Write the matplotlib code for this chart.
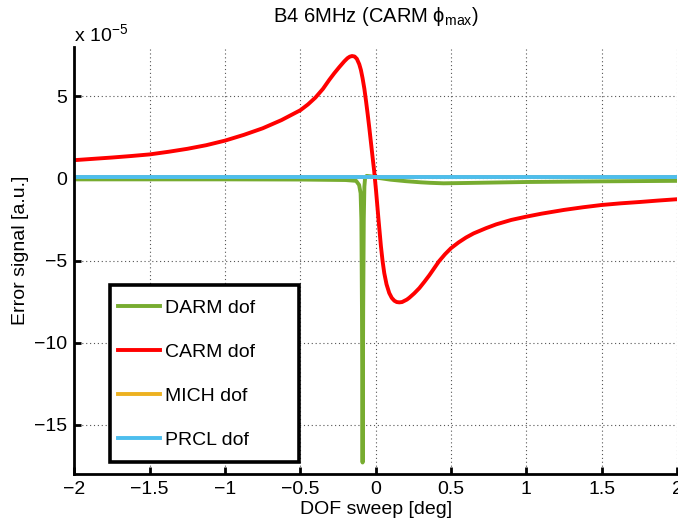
import matplotlib
matplotlib.use("Agg")
import matplotlib.pyplot as plt
from matplotlib.patches import Rectangle

plt.rcParams['font.family'] = ['Liberation Sans', 'DejaVu Sans']
plt.rcParams['mathtext.fontset'] = 'custom'
plt.rcParams['mathtext.rm'] = 'Liberation Sans'
plt.rcParams['mathtext.it'] = 'Liberation Sans:italic'

# values, in units of 1e-5
carm_x = [-2.0, -1.875, -1.75, -1.625, -1.5, -1.375, -1.25, -1.125, -1.0, -0.875,
          -0.75, -0.625, -0.5, -0.45, -0.4, -0.35, -0.308, -0.275, -0.242, -0.208,
          -0.187, -0.172, -0.157, -0.14, -0.125, -0.109, -0.098, -0.087, -0.075,
          -0.064, -0.053, -0.042, -0.031, -0.02, -0.01, 0.002, 0.019, 0.035,
          0.046, 0.057, 0.072, 0.09, 0.107, 0.124, 0.14, 0.157, 0.175, 0.19,
          0.207, 0.223, 0.256, 0.29, 0.323, 0.356, 0.39, 0.42, 0.46, 0.5, 0.55,
          0.6, 0.65, 0.733, 0.8, 0.9, 1.0, 1.1, 1.25, 1.375, 1.5, 1.625, 1.75,
          1.875, 2.0]
carm = [1.11, 1.19, 1.27, 1.36, 1.46, 1.62, 1.8, 2.02, 2.3, 2.65,
        3.05, 3.55, 4.15, 4.5, 4.92, 5.45, 6.0, 6.4, 6.77, 7.13,
        7.32, 7.41, 7.45, 7.42, 7.28, 6.95, 6.6, 6.1, 5.45,
        4.7, 3.9, 3.05, 2.15, 1.25, 0.45, -0.71, -2.53, -4.15,
        -5.05, -5.77, -6.45, -6.98, -7.28, -7.45, -7.53, -7.55, -7.53, -7.46,
        -7.38, -7.27, -7.0, -6.68, -6.3, -5.9, -5.45, -5.05, -4.62, -4.25, -3.9,
        -3.6, -3.35, -3.03, -2.8, -2.53, -2.33, -2.15, -1.92, -1.76, -1.62, -1.52, -1.44,
        -1.35, -1.27]

darm_x = [-2.0, -1.0, -0.5, -0.2, -0.13, -0.11, -0.1, -0.095, -0.091, -0.087,
          -0.083, -0.079, -0.075, -0.07, -0.06, -0.03, 0.0, 0.04, 0.1, 0.2,
          0.3, 0.36, 0.45, 0.6, 1.0, 1.5, 2.0]
darm = [-0.06, -0.06, -0.07, -0.1, -0.15, -0.4, -0.9, -2.5, -8.0, -17.3,
        -8.0, -2.5, -0.5, 0.05, 0.15, 0.12, 0.05, 0.0, -0.08, -0.17,
        -0.24, -0.27, -0.3, -0.28, -0.22, -0.18, -0.15]

mich_x = [-2.0, -1.0, 0.0, 1.0, 2.0]
mich = [0.08, 0.08, 0.08, 0.08, 0.08]

prcl_x = [-2.0, -1.0, 0.0, 1.0, 2.0]
prcl = [0.06, 0.06, 0.06, 0.06, 0.06]

xticks = [-2, -1.5, -1, -0.5, 0, 0.5, 1, 1.5, 2]
xticklabels = ['\u22122', '\u22121.5', '\u22121', '\u22120.5', '0', '0.5', '1', '1.5', '2']
yticks = [-15, -10, -5, 0, 5]
yticklabels = ['\u221215', '\u221210', '\u22125', '0', '5']

W, H = 678, 521
fig = plt.figure(figsize=(6.78, 5.21), dpi=100)
ax = fig.add_axes([0.1097, 0.0902, 0.8888, 0.8196])

lw = 2.8
ax.plot(darm_x, darm, color='#77AC30', lw=lw, label='DARM dof')
ax.plot(carm_x, carm, color='#FF0000', lw=lw, label='CARM dof')
ax.plot(mich_x, mich, color='#EDB120', lw=lw, label='MICH dof')
ax.plot(prcl_x, prcl, color='#4DBEEE', lw=lw, label='PRCL dof')

ax.set_xlim(-2, 2)
ax.set_ylim(-18, 8)
ax.set_xticks(xticks)
ax.set_xticklabels(xticklabels)
ax.set_yticks(yticks)
ax.set_yticklabels(yticklabels)

ax.grid(True, color='#555555', linestyle=(0, (1, 2.5)), lw=0.8)
ax.spines['top'].set_visible(False)
ax.spines['right'].set_visible(False)
for s in ['left', 'bottom']:
    ax.spines[s].set_linewidth(2.0)
ax.tick_params(direction='in', length=5, width=2, labelsize=14, pad=5)

ax.text(0.0, 1.014, 'x 10$^{-5}$', transform=ax.transAxes, fontsize=14,
        ha='left', va='baseline')
fig.text(376 / W, 1 - 22 / H, 'B4 6MHz (CARM \u03d5$_{\\mathrm{max}}$)', fontsize=14.5,
         ha='center', va='baseline')
fig.text(376 / W, 1 - 514 / H, 'DOF sweep [deg]', fontsize=14,
         ha='center', va='baseline')
fig.text(21 / W, 1 - 250 / H, 'Error signal [a.u.]', fontsize=14,
         ha='center', va='center', rotation=90)

# legend box, MATLAB style (wider than the entries)
box = Rectangle((110 / W, 1 - 462 / H), 189 / W, 177 / H, transform=fig.transFigure,
                facecolor='white', edgecolor='black', lw=2.6, zorder=4.5)
ax.add_artist(box)
box.set_clip_on(False)

leg = ax.legend(loc='upper left', bbox_to_anchor=(118 / W, 1 - 299 / H),
                bbox_transform=fig.transFigure, borderaxespad=0, borderpad=0,
                fontsize=14, frameon=False, handlelength=2.15,
                handletextpad=0.28, labelspacing=1.36)
leg.set_zorder(5)

fig.savefig('out.png', dpi=100)
